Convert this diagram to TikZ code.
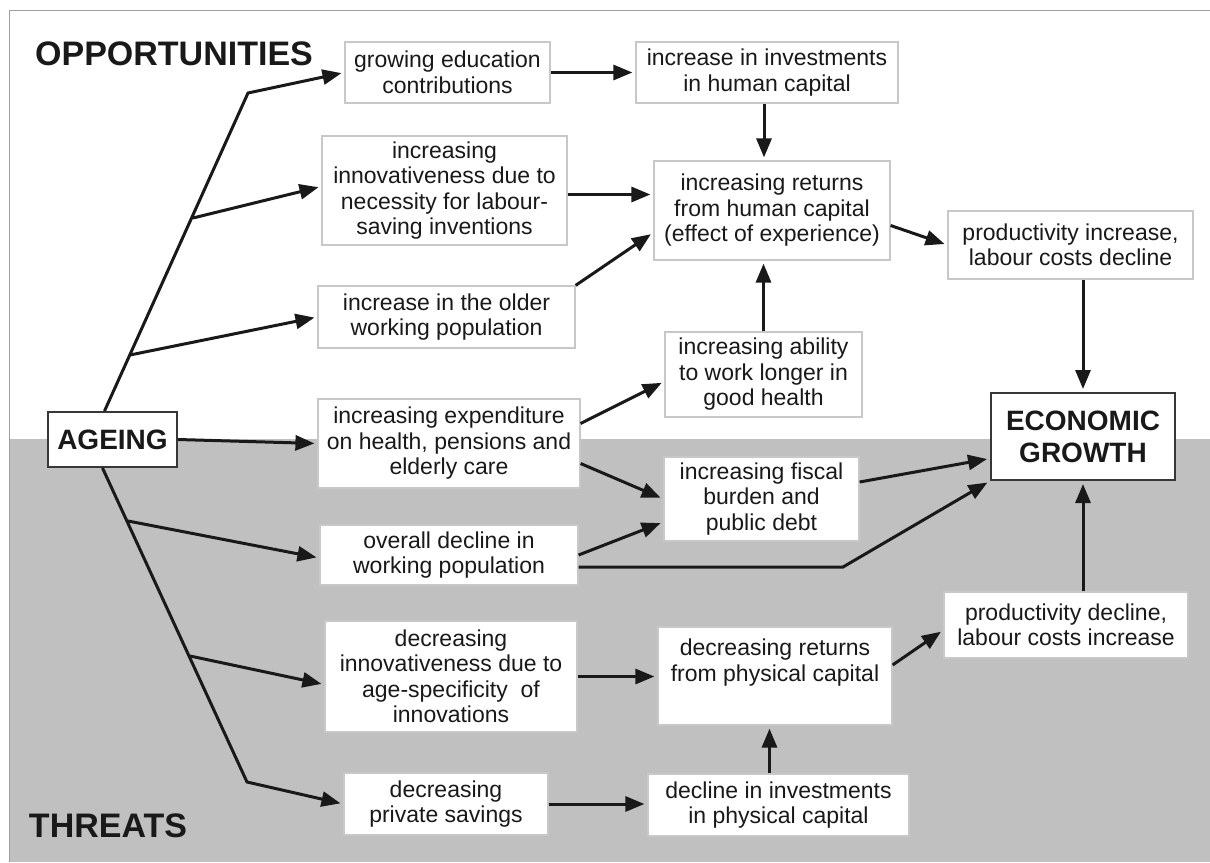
\documentclass[tikz,border=0pt]{standalone}
\usepackage{fontspec}
\setmainfont{Liberation Sans}
\usetikzlibrary{arrows.meta}
\definecolor{bandgray}{RGB}{192,192,192}
\definecolor{framegray}{RGB}{160,160,160}
\definecolor{boxline}{RGB}{200,200,200}
\definecolor{keyline}{RGB}{55,55,55}
\definecolor{inkgray}{RGB}{25,25,25}
\begin{document}
\begin{tikzpicture}[x=1pt, y=-1pt, every node/.style={align=center, text=inkgray},
  box/.style={draw=boxline, line width=1.2pt, fill=white, inner sep=0pt, font=\fontsize{23}{25.5}\selectfont},
  keybox/.style={draw=keyline, line width=2pt, fill=white, inner sep=0pt, font=\fontsize{28}{32}\selectfont\bfseries},
  heading/.style={font=\fontsize{34}{38}\selectfont\bfseries},
  arr/.style={-{Triangle[length=19pt,width=15pt]}, line width=3pt, draw=inkgray, shorten >=3pt},
  trunk/.style={line width=3pt, draw=inkgray}]
\useasboundingbox (0,0) rectangle (1210,862);
\fill[bandgray] (9,439) rectangle (1210,862);
\draw[framegray, line width=1pt] (9.5,862) -- (9.5,10.5) -- (1210,10.5);

\node (opp) [heading] at (174,54) {OPPORTUNITIES};
\node (thr) [heading] at (108,826) {THREATS};

\node (ageing) [keybox, minimum width=129pt, minimum height=55pt] at (112.5,439.5) {AGEING};
\node (growth) [keybox, minimum width=184pt, minimum height=87pt] at (1083,436.5) {ECONOMIC\\GROWTH};

% opportunities
\node (edu) [box, minimum width=205pt, minimum height=61pt] at (447.5,72.5) {growing education\\contributions};
\node (invhum) [box, minimum width=262pt, minimum height=61pt] at (767,72.5) {increase in investments\\in human capital};
\node (innov) [box, minimum width=245pt, minimum height=109pt] at (444.5,190.5) {increasing\\innovativeness due to\\necessity for labour-\\saving inventions};
\node (rethum) [box, minimum width=236pt, minimum height=99pt] at (772,210.5) {increasing returns\\from human capital\\(effect of experience)};
\node (older) [box, minimum width=257pt, minimum height=62pt] at (446.5,317) {increase in the older\\working population};
\node (ability) [box, minimum width=197pt, minimum height=85pt] at (763.5,374.5) {increasing ability\\to work longer in\\good health};
\node (prodinc) [box, minimum width=245pt, minimum height=68pt] at (1070.5,245) {productivity increase,\\labour costs decline};

% threats
\node (expend) [box, minimum width=262pt, minimum height=89pt] at (449,443.5) {increasing expenditure\\on health, pensions and\\elderly care};
\node (fiscal) [box, minimum width=195pt, minimum height=84pt] at (761.5,499) {increasing fiscal\\burden and\\public debt};
\node (workpop) [box, minimum width=258pt, minimum height=60pt] at (449,555) {overall decline in\\working population};
\node (decinnov) [box, minimum width=252pt, minimum height=111pt] at (451,676.5) {decreasing\\innovativeness due to\\age-specificity~ of\\innovations};
\node (decret) [box, minimum width=234pt, minimum height=98pt] at (775,676) {decreasing returns\\from physical capital\\[6pt]};
\node (proddec) [box, minimum width=244pt, minimum height=66pt] at (1066,625) {productivity decline,\\labour costs increase};
\node (savings) [box, minimum width=204pt, minimum height=62pt] at (446,804) {decreasing\\private savings};
\node (decinv) [box, minimum width=261pt, minimum height=62pt] at (778.5,805) {decline in investments\\in physical capital};

\coordinate (kneeup) at (248,93);
\coordinate (forkinnov) at (193,218);
\coordinate (forkolder) at (130,355);
\coordinate (kneedown) at (247,782);
\coordinate (forkwork) at (128,521);
\coordinate (forkdec) at (190,656);
\coordinate (kink) at (843,567);

\draw[arr] ([xshift=-8pt]ageing.north) -- (kneeup) -- (edu.west);
\draw[arr] (forkinnov) -- ([yshift=4pt]innov.west);
\draw[arr] (forkolder) -- (older.west);
\draw[arr] (ageing.east) -- (expend.west);
\draw[arr] ([xshift=-10pt]ageing.south) -- (kneedown) -- (savings.west);
\draw[arr] (forkwork) -- ([yshift=-3pt]workpop.west);
\draw[arr] (forkdec) -- ([yshift=-8pt]decinnov.west);

\draw[arr] (edu.east) -- (invhum.west);
\draw[arr] ([xshift=-3pt]invhum.south) -- ([xshift=-3pt]invhum.south |- rethum.north);
\draw[arr] ([yshift=-4pt]innov.east) -- ([yshift=-4pt]innov.east -| rethum.west);
\draw[arr] (older.north east) -- ([yshift=-22pt]rethum.west);
\draw[arr] (ability.north) -- (ability.north |- rethum.south);
\draw[arr] ([yshift=-15pt]rethum.east) -- (prodinc.west);
\draw[arr] (growth.north |- prodinc.south) -- (growth.north);

\draw[arr] ([yshift=20pt]expend.east) -- ([yshift=-7pt]ability.west);
\draw[arr] ([yshift=-20pt]expend.east) -- (fiscal.west);
\draw[arr] (workpop.east) -- ([yshift=-23pt]fiscal.west);
\draw[arr] ([yshift=-12pt]workpop.east) -- (kink) -- (growth.south west);
\draw[arr] ([yshift=17pt]fiscal.east) -- ([yshift=-22pt]growth.west);
\draw[arr] (growth.south |- proddec.north) -- (growth.south);

\draw[arr] (decinnov.east) -- (decinnov.east -| decret.west);
\draw[arr] (savings.east) -- (savings.east -| decinv.west);
\draw[arr] ([xshift=-9pt]decinv.north) -- ([xshift=-9pt]decinv.north |- decret.south);
\draw[arr] ([yshift=11pt]decret.east) -- ([yshift=-5pt]proddec.west);
\end{tikzpicture}
\end{document}
